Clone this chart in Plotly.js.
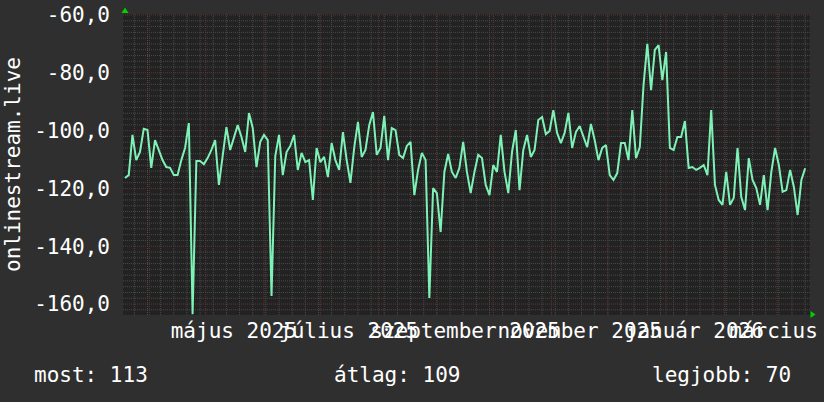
<!DOCTYPE html>
<html>
<head>
<meta charset="utf-8">
<script src="https://cdn.plot.ly/plotly-3.0.1.min.js"></script>
<style>
  html, body { margin: 0; padding: 0; background: #2f2f2f; }
  #chart { width: 824px; height: 402px; }
</style>
</head>
<body>
<div id="chart"></div>
<script>
// ---- data ----
const seriesName = 'onlinestream.live';
const startDate = '2025-03-19';   // first sample
const stepDays = 2;               // sample spacing in days
const values = [
  -116.4, -115.4, -101.5, -110.2, -107.4, -99.4, -99.8, -112.9, -103.3, -106.7,
  -110.2, -112.6, -112.9, -115.4, -115.4, -110.2, -106.0, -97.4, -163.5, -110.5,
  -110.5, -111.6, -109.5, -106.7, -103.3, -118.8, -108.4, -98.8, -106.7, -102.6,
  -98.1, -102.2, -107.4, -93.9, -99.1, -112.6, -103.9, -101.5, -103.3, -157.2,
  -108.8, -101.5, -115.4, -107.4, -105.3, -101.5, -113.6, -107.7, -110.9, -110.2,
  -124.0, -106.0, -110.9, -109.1, -116.1, -104.3, -110.2, -113.6, -100.5, -110.2,
  -118.1, -106.0, -97.0, -109.1, -106.7, -98.1, -93.6, -108.4, -106.0, -94.9,
  -110.2, -99.1, -99.8, -108.4, -109.5, -105.3, -103.9, -122.3, -113.6, -107.7,
  -110.2, -157.9, -119.9, -121.6, -135.1, -114.3, -108.1, -114.3, -116.4, -112.9,
  -103.9, -114.3, -121.6, -114.3, -108.4, -109.5, -118.8, -122.3, -111.9, -114.3,
  -101.5, -114.3, -121.6, -107.4, -99.8, -120.6, -106.7, -101.5, -109.1, -106.7,
  -96.3, -95.3, -101.2, -100.1, -92.9, -100.8, -104.3, -100.8, -93.9, -106.0,
  -100.5, -98.4, -102.2, -105.7, -97.7, -103.3, -110.2, -106.0, -105.0, -115.4,
  -117.1, -114.7, -104.3, -104.3, -110.2, -92.9, -109.5, -105.7, -84.2, -70.0,
  -86.0, -72.1, -70.4, -82.5, -72.8, -106.0, -106.7, -102.2, -102.2, -96.7,
  -112.9, -112.6, -113.6, -112.9, -111.9, -115.4, -92.9, -118.8, -124.0, -125.7,
  -114.3, -125.7, -123.3, -106.0, -123.0, -127.5, -109.5, -117.1, -119.9, -125.7,
  -115.4, -127.5, -114.3, -106.0, -111.9, -121.2, -120.6, -113.6, -119.5, -129.2,
  -117.1, -113.0
];
const yTickVals   = [-160, -140, -120, -100, -80, -60];
const yTickLabels = ['-160,0', '-140,0', '-120,0', '-100,0', '-80,0', '-60,0'];
const xTickVals   = ['2025-05-16', '2025-07-16', '2025-09-16', '2025-11-16', '2026-01-16', '2026-03-16'];
const xTickLabels = ['május 2025', 'július 2025', 'szeptember 2025', 'november 2025', 'január 2026', 'március 2026'];
const statLabels  = ['most', 'átlag', 'legjobb'];
const statValues  = [113, 109, 70];

// ---- layout constants ----
const W = 824, H = 402;
const L = 123, R = 810, T = 14, B = 315;
const xRange = ['2025-03-17 23:00', '2026-03-18 14:00'];
const yRange = [-163.8, -59.65];
const FONT = 'DejaVu Sans Mono, monospace';
const TXT = '#ffffff';
const MINOR = '#4a4a4a';
const MAJOR = '#5f3535';
const px2x = p => (p - L) / (R - L);
const px2y = p => (B - p) / (B - T);

const DAY = 86400000;
const t0 = Date.parse(startDate + 'T00:00:00Z');
const xs = values.map((_, i) => new Date(t0 + i * stepDays * DAY).toISOString().slice(0, 10));

// ---- grid as shapes ----
const shapes = [];
const fmt = ms => new Date(ms).toISOString().slice(0, 19).replace('T', ' ');
const xStart = Date.parse(xRange[0].replace(' ', 'T') + ':00Z');
const xEnd = Date.parse(xRange[1].replace(' ', 'T') + ':00Z');
// weekly minor (Mondays)
for (let t = Date.parse('2025-03-24T00:00:00Z'); t < xEnd; t += 7 * DAY) {
  if (t <= xStart) continue;
  shapes.push({type: 'line', layer: 'below', xref: 'x', yref: 'paper', x0: fmt(t), x1: fmt(t), y0: 0, y1: 1,
    line: {color: MINOR, width: 1, dash: '1px,1px'}});
}
// horizontal minor
for (let v = -162; v <= -60; v += 2) {
  if (v % 20 === 0) continue;
  shapes.push({type: 'line', layer: 'below', xref: 'paper', yref: 'y', x0: 0, x1: 1, y0: v, y1: v,
    line: {color: MINOR, width: 1, dash: '1px,1px'}});
}
// monthly major
for (let y = 2025, m = 3; ; ) {
  const t = Date.UTC(y, m, 1);
  if (t >= xEnd) break;
  if (t > xStart) shapes.push({type: 'line', layer: 'below', xref: 'x', yref: 'paper', x0: fmt(t), x1: fmt(t), y0: 0, y1: 1,
    line: {color: MAJOR, width: 1, dash: '1px,1px'}});
  m++; if (m > 11) { m = 0; y++; }
}
// horizontal major
yTickVals.forEach(v => shapes.push({type: 'line', layer: 'below', xref: 'paper', yref: 'y', x0: 0, x1: 1, y0: v, y1: v,
  line: {color: MAJOR, width: 1, dash: '1px,1px'}}));
// axis arrows
const tri = pts => 'M' + pts.map(p => px2x(p[0]) + ',' + px2y(p[1])).join(' L') + ' Z';
shapes.push({type: 'path', xref: 'paper', yref: 'paper', path: tri([[125, 7.5], [121.5, 13], [128.5, 13]]),
  fillcolor: '#00d000', line: {width: 0}});
shapes.push({type: 'path', xref: 'paper', yref: 'paper', path: tri([[815.5, 314.5], [810.5, 311], [810.5, 318]]),
  fillcolor: '#00d000', line: {width: 0}});

// ---- annotations ----
const annotations = [
  {text: seriesName, xref: 'paper', yref: 'paper', x: px2x(13), y: px2y(165), textangle: -90,
   showarrow: false, xanchor: 'center', yanchor: 'middle', font: {family: FONT, size: 21, color: TXT}}
];
const statX = [32, 332, 650];
statLabels.forEach((lab, i) => annotations.push({
  text: lab + ': ' + statValues[i], xref: 'paper', yref: 'paper', x: px2x(statX[i]), y: px2y(375),
  showarrow: false, xanchor: 'left', yanchor: 'middle', font: {family: FONT, size: 21, color: TXT}
}));

const trace = {
  type: 'scatter', mode: 'lines', x: xs, y: values, name: seriesName,
  line: {color: '#7ef2b6', width: 2, shape: 'linear'}, hoverinfo: 'skip'
};

const layout = {
  width: W, height: H,
  paper_bgcolor: '#2f2f2f', plot_bgcolor: '#222222',
  margin: {l: L, r: W - R, t: T, b: H - B, pad: 0},
  showlegend: false,
  xaxis: {
    type: 'date', range: xRange, showgrid: false, zeroline: false, showline: false,
    tickmode: 'array', tickvals: xTickVals, ticktext: xTickLabels, tickangle: 0,
    ticks: '', ticklabelstandoff: 1, ticklabeloverflow: 'allow',
    tickfont: {family: FONT, size: 21, color: TXT}, fixedrange: true
  },
  yaxis: {
    range: yRange, showgrid: false, zeroline: false, showline: false,
    tickmode: 'array', tickvals: yTickVals, ticktext: yTickLabels,
    ticks: '', ticklabelstandoff: 12,
    tickfont: {family: FONT, size: 21, color: TXT}, fixedrange: true
  },
  shapes: shapes,
  annotations: annotations
};

Plotly.newPlot('chart', [trace], layout, {staticPlot: true, displayModeBar: false});
</script>
</body>
</html>
